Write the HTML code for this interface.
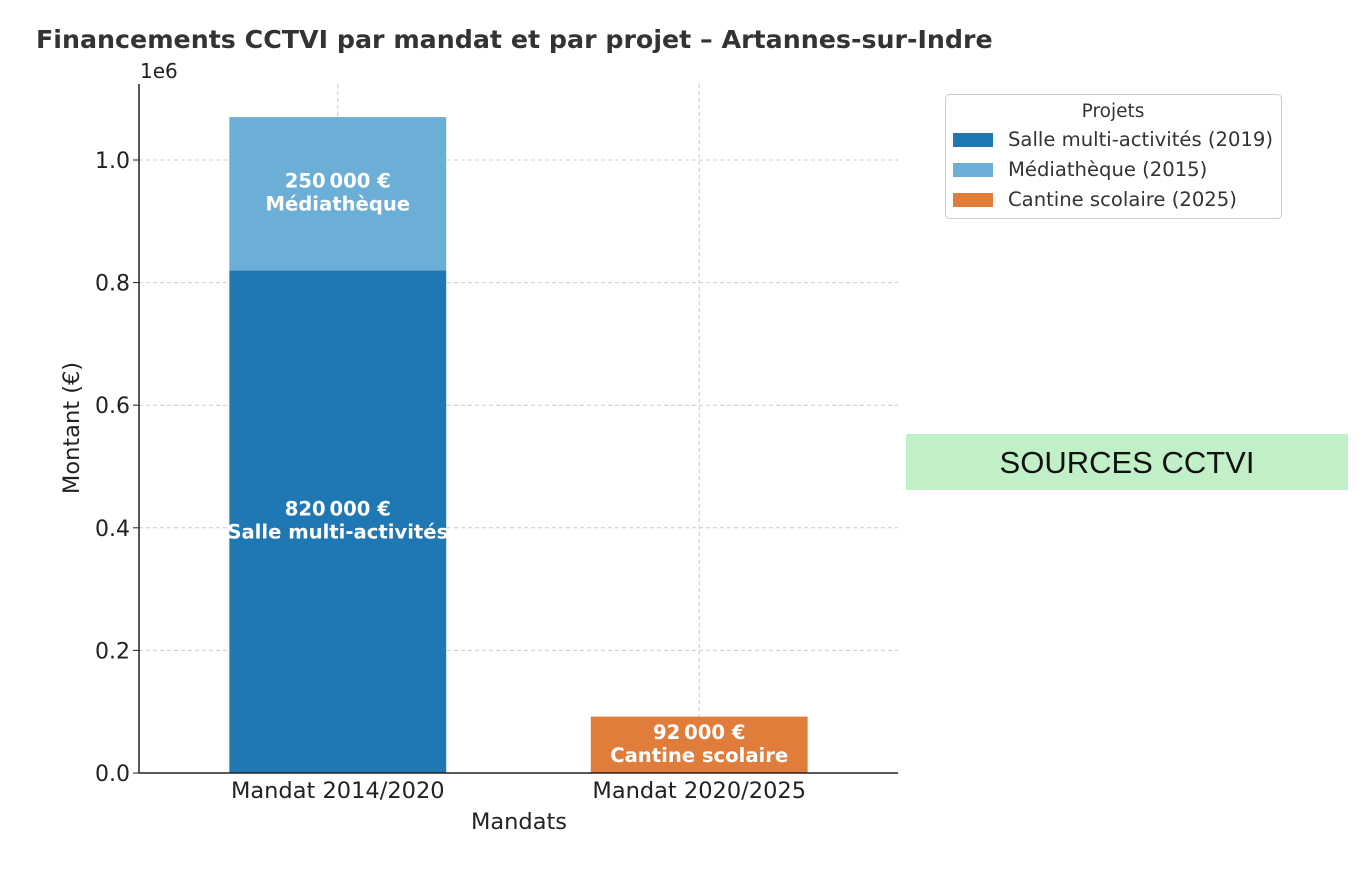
<!DOCTYPE html>
<html><head><meta charset="utf-8"><style>
body{margin:0;background:#fff;width:1366px;height:868px;overflow:hidden;font-family:"DejaVu Sans","Liberation Sans",sans-serif;}
</style></head><body>
<svg id="chart" width="1366" height="868" xmlns="http://www.w3.org/2000/svg">
<text x="36" y="48" font-size="25.3" font-weight="bold" fill="#333">Financements CCTVI par mandat et par projet – Artannes-sur-Indre</text>
<text x="140" y="78" font-size="20" fill="#222">1e6</text>
<g id="grid"></g><g id="bars"></g><g id="axes"></g>
<text x="79" y="428" font-size="22.5" fill="#222" text-anchor="middle" transform="rotate(-90 79 428)">Montant (€)</text>
<text x="519" y="829" font-size="22.5" fill="#222" text-anchor="middle">Mandats</text>
<g>
<rect x="945.5" y="94.5" width="336" height="124" rx="4" fill="#fff" stroke="#ccc"/>
<text x="1113" y="117" font-size="18.5" fill="#333" text-anchor="middle">Projets</text>
<g><rect x="953" y="133" width="40" height="14" fill="#1f77b4"/><text x="1008" y="146" font-size="19.6" fill="#333">Salle multi-activités (2019)</text></g>
<g><rect x="953" y="163" width="40" height="14" fill="#6baed6"/><text x="1008" y="176" font-size="19.6" fill="#333">Médiathèque (2015)</text></g>
<g><rect x="953" y="193" width="40" height="14" fill="#e17d3b"/><text x="1008" y="206" font-size="19.6" fill="#333">Cantine scolaire (2025)</text></g>
</g>
<g>
<rect x="906" y="434" width="442" height="56" fill="#c1f0c8"/>
<text x="1127" y="473" font-size="31" fill="#111" text-anchor="middle" font-family="Liberation Sans, sans-serif">SOURCES CCTVI</text>
</g>
</svg>
<script>
const categories=["Mandat 2014/2020","Mandat 2020/2025"];
const salleValues=[820000,0];
const mediathequeValues=[250000,0];
const cantineValues=[0,92000];
const yTicks=[0,0.2,0.4,0.6,0.8,1.0];
const yTickLabels=["0.0","0.2","0.4","0.6","0.8","1.0"];
const NS="http://www.w3.org/2000/svg";
const L=139,R=898,T=84,B=773,xmin=-0.55,xmax=1.55,ymax=1.124e6;
const xs=v=>L+(v-xmin)/(xmax-xmin)*(R-L);
const ys=v=>B-v/ymax*(B-T);
function mk(tag,attrs,parent,txt){const e=document.createElementNS(NS,tag);for(const k in attrs)e.setAttribute(k,attrs[k]);if(txt!==undefined)e.textContent=txt;parent.appendChild(e);return e;}
const g=document.getElementById('grid'),bg=document.getElementById('bars'),ag=document.getElementById('axes');
yTicks.forEach((t,i)=>{const y=ys(t*1e6);
const l=mk('line',{x1:L,x2:R,y1:y,y2:y,stroke:'#ccc','stroke-dasharray':'4 3'},g);

const tk=mk('line',{x1:L-6,x2:L,y1:y,y2:y,stroke:'#222'},ag);

const tx=mk('text',{x:L-9,y:y+8,'font-size':22,fill:'#222','text-anchor':'end'},ag,yTickLabels[i]);
});
categories.forEach((c,i)=>{const x=xs(i);
const l=mk('line',{x1:x,x2:x,y1:T,y2:B,stroke:'#ccc','stroke-dasharray':'4 3'},g);

const tx=mk('text',{x:x,y:B+25,'font-size':22.5,fill:'#222','text-anchor':'middle'},ag,c);
});
const fmt=v=>String(v).replace(/\B(?=(\d{3})+(?!\d))/g,'\u202f')+'\u00a0€';
const series=[{vals:salleValues,color:'#1f77b4',label:'Salle multi-activités',name:'bar-salle'},
{vals:mediathequeValues,color:'#6baed6',label:'Médiathèque',name:'bar-mediatheque'},
{vals:cantineValues,color:'#e17d3b',label:'Cantine scolaire',name:'bar-cantine'}];
const base=categories.map(()=>0);const w=0.6;
series.forEach(s=>{s.vals.forEach((v,i)=>{if(!v)return;
const x0=xs(i-w/2),x1=xs(i+w/2),y0=ys(base[i]),y1=ys(base[i]+v);
const r=mk('rect',{x:x0,y:y1,width:x1-x0,height:y0-y1,fill:s.color},bg);

const cy=(y0+y1)/2;
const t1=mk('text',{x:xs(i),y:cy-6,'font-size':19.6,'font-weight':'bold',fill:'#fff','text-anchor':'middle'},bg,fmt(v));

const t2=mk('text',{x:xs(i),y:cy+17,'font-size':19.6,'font-weight':'bold',fill:'#fff','text-anchor':'middle'},bg,s.label);

base[i]+=v;});});
const a1=mk('line',{x1:L,x2:L,y1:T,y2:B,stroke:'#222','stroke-width':1.5},ag);

const a2=mk('line',{x1:L,x2:R,y1:B,y2:B,stroke:'#222','stroke-width':1.5},ag);

</script>
</body></html>
